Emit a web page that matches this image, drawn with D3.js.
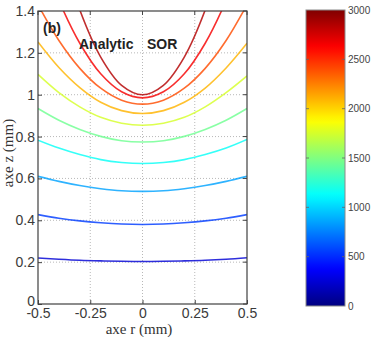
<!DOCTYPE html>
<html><head><meta charset="utf-8">
<script src="https://cdn.jsdelivr.net/npm/d3@7"></script>
<style>body{margin:0;background:#fff}svg{display:block}</style>
</head><body>
<script>
// ---- data ----
const rValues = [-0.5,-0.4,-0.3,-0.2,-0.1,0,0.1,0.2,0.3,0.4,0.5];
const levels = [250,550,850,1150,1450,1750,2100,2400,2650,2850];
const z250  = [0.220,0.214,0.209,0.206,0.204,0.203,0.204,0.206,0.209,0.214,0.221];
const z550  = [0.427,0.410,0.397,0.388,0.382,0.380,0.382,0.388,0.397,0.410,0.427];
const z850  = [0.610,0.586,0.566,0.551,0.541,0.538,0.541,0.551,0.566,0.586,0.610];
const z1150 = [0.783,0.745,0.714,0.690,0.676,0.671,0.676,0.690,0.714,0.745,0.786];
const z1450 = [0.934,0.878,0.834,0.801,0.780,0.774,0.780,0.801,0.834,0.878,0.934];
const z1750 = [1.097,1.010,0.942,0.892,0.864,0.854,0.864,0.892,0.942,1.010,1.090];
const z2100 = [1.252,1.130,1.034,0.964,0.924,0.910,0.924,0.964,1.032,1.128,1.246];
const z2400 = [1.430,1.259,1.126,1.031,0.974,0.955,0.974,1.031,1.126,1.259,1.430];
const z2650 = [1.710,1.450,1.246,1.100,1.014,0.985,1.014,1.100,1.246,1.450,1.710];
const z2850 = [2.130,1.720,1.405,1.180,1.045,1.000,1.045,1.180,1.405,1.720,2.130];
const curves = [z250,z550,z850,z1150,z1450,z1750,z2100,z2400,z2650,z2850];
const xTicks = [-0.5,-0.25,0,0.25,0.5];
const xTickLabels = ["-0.5","-0.25","0","0.25","0.5"];
const yTicks = [0,0.2,0.4,0.6,0.8,1,1.2,1.4];
const yTickLabels = ["0","0.2","0.4","0.6","0.8","1","1.2","1.4"];
const cbTicks = [0,500,1000,1500,2000,2500,3000];

// ---- drawing ----
(function(){
const W=377,H=337;
const svg=d3.select("body").append("svg").attr("width",W).attr("height",H);
const pL=38,pR=247,pT=11,pB=304;
const x=d3.scaleLinear().domain([-0.5,0.5]).range([pL,pR]);
const y=d3.scaleLinear().domain([0,1.4]).range([pB,pT]);
function jet(t){
  const c=v=>Math.max(0,Math.min(1,v));
  const r=c(1.5-Math.abs(4*t-3)),g=c(1.5-Math.abs(4*t-2)),b=c(1.5-Math.abs(4*t-1));
  return d3.rgb(r*255,g*255,b*255).toString();
}
const cmax=3000;
const defs=svg.append("defs");
defs.append("clipPath").attr("id","clip")
  .append("rect").attr("x",pL).attr("y",pT).attr("width",pR-pL).attr("height",pB-pT);

// grid
const grid=svg.append("g").attr("stroke","#b8b8b8").attr("stroke-width",1).attr("stroke-dasharray","1,2");
xTicks.slice(1,-1).forEach(v=>grid.append("line").attr("x1",x(v)).attr("x2",x(v)).attr("y1",pT).attr("y2",pB));
yTicks.slice(1,-1).forEach(v=>grid.append("line").attr("x1",pL).attr("x2",pR).attr("y1",y(v)).attr("y2",y(v)));

// curves
const line=d3.line().x((d,i)=>x(rValues[i])).y(d=>y(d)).curve(d3.curveCatmullRom.alpha(0.5));
const cg=svg.append("g").attr("clip-path","url(#clip)");
curves.forEach((zs,k)=>{
  cg.append("path").attr("d",line(zs)).attr("fill","none")
    .attr("stroke",jet(levels[k]/cmax)).attr("stroke-width",1.6).attr("stroke-opacity",0.82);
});

// axes
const fontSans="Liberation Sans, Arial, sans-serif";
const xAxis=d3.axisBottom(x).tickValues(xTicks).tickFormat((d,i)=>xTickLabels[i]).tickSizeInner(-4).tickSizeOuter(0).tickPadding(4);
const yAxis=d3.axisLeft(y).tickValues(yTicks).tickFormat((d,i)=>yTickLabels[i]).tickSizeInner(-4).tickSizeOuter(0).tickPadding(3);
const gx=svg.append("g").attr("transform",`translate(0,${pB})`).call(xAxis);
const gy=svg.append("g").attr("transform",`translate(${pL},0)`).call(yAxis);
[gx,gy].forEach(g=>{
  g.selectAll("text").attr("font-family",fontSans).attr("font-size",14).attr("fill","#3a3a3a");
  g.selectAll("line").attr("stroke","#444");
  g.select(".domain").remove();
});
gy.selectAll(".tick").filter(d=>d===0).select("text").attr("dy","0.1em");
// mirrored ticks
const gt=svg.append("g").attr("stroke","#444");
xTicks.forEach(v=>gt.append("line").attr("x1",x(v)).attr("x2",x(v)).attr("y1",pT).attr("y2",pT+4));
yTicks.forEach(v=>gt.append("line").attr("x1",pR).attr("x2",pR-4).attr("y1",y(v)).attr("y2",y(v)));
// frame
svg.append("rect").attr("x",pL).attr("y",pT).attr("width",pR-pL).attr("height",pB-pT)
  .attr("fill","none").attr("stroke","#404040").attr("stroke-width",1.2);

// axis titles
svg.append("text").attr("x",139).attr("y",334).attr("text-anchor","middle")
  .attr("font-family","Liberation Serif, Times New Roman, serif").attr("font-size",15).attr("fill","#333")
  .text("axe r (mm)");
svg.append("text").attr("transform","translate(13,153) rotate(-90)").attr("text-anchor","middle")
  .attr("font-family","Liberation Serif, Times New Roman, serif").attr("font-size",15).attr("fill","#333")
  .text("axe z (mm)");

// annotations
svg.append("text").attr("x",43).attr("y",33).attr("font-family",fontSans).attr("font-weight","bold")
  .attr("font-size",14).attr("fill","#222").text("(b)");
svg.append("text").attr("x",79).attr("y",49).attr("font-family",fontSans).attr("font-weight","bold")
  .attr("font-size",14).attr("fill","#222").text("Analytic");
svg.append("text").attr("x",147).attr("y",49).attr("font-family",fontSans).attr("font-weight","bold")
  .attr("font-size",14).attr("fill","#222").text("SOR");

// colorbar
const cbx=306,cbw=39,cbTop=10,cbBottom=306;
const cy=d3.scaleLinear().domain([0,cmax]).range([cbBottom,cbTop]);
const grad=defs.append("linearGradient").attr("id","jet")
  .attr("x1",0).attr("y1",1).attr("x2",0).attr("y2",0);
d3.range(0,1.0001,0.02).forEach(t=>grad.append("stop").attr("offset",t).attr("stop-color",jet(t)));
svg.append("rect").attr("x",cbx).attr("y",cbTop).attr("width",cbw).attr("height",cbBottom-cbTop)
  .attr("fill","url(#jet)").attr("stroke","#8a8a8a").attr("stroke-width",1);
const cbAxis=d3.axisRight(cy).tickValues(cbTicks).tickSizeInner(0).tickSizeOuter(0).tickPadding(3).tickFormat(d3.format("d"));
const gcb=svg.append("g").attr("transform",`translate(${cbx+cbw},0)`).call(cbAxis);
gcb.select(".domain").remove();
gcb.selectAll("text").attr("font-family",fontSans).attr("font-size",10).attr("fill","#444");
const cbt=svg.append("g").attr("stroke","#666").attr("stroke-width",0.8);
cbTicks.slice(1,-1).forEach(v=>{
  cbt.append("line").attr("x1",cbx).attr("x2",cbx+3).attr("y1",cy(v)).attr("y2",cy(v));
  cbt.append("line").attr("x1",cbx+cbw).attr("x2",cbx+cbw-3).attr("y1",cy(v)).attr("y2",cy(v));
});
})();
</script>
</body></html>
